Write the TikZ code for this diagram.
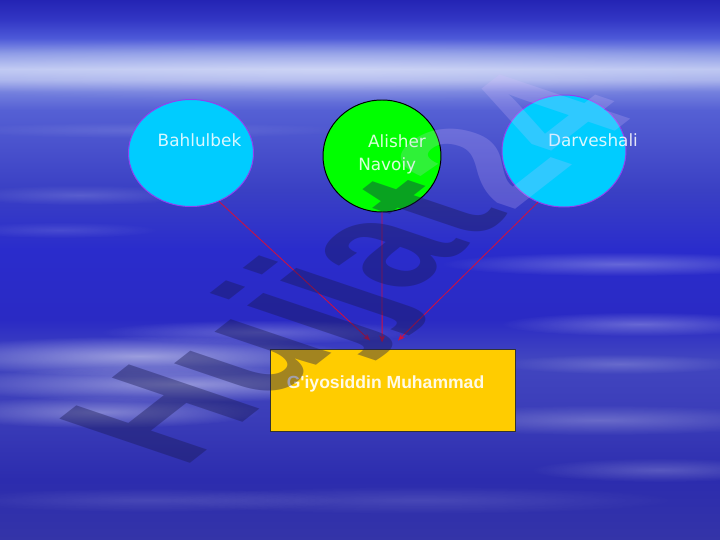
\documentclass[tikz,border=0pt]{standalone}
\usepackage{fontspec}
\setmainfont{DejaVu Sans}
\newfontfamily\boxfont{Liberation Sans}
\usetikzlibrary{shapes.geometric,arrows.meta,fadings}
\definecolor{sky0}{HTML}{3434A8}
\definecolor{sky1}{HTML}{2C2CAE}
\definecolor{sky2}{HTML}{3A3CB8}
\definecolor{sky3}{HTML}{4246C0}
\definecolor{sky4}{HTML}{2A2AC4}
\definecolor{sky5}{HTML}{2A2CCC}
\definecolor{sky6}{HTML}{3A40C4}
\definecolor{sky7}{HTML}{4850CC}
\definecolor{sky8}{HTML}{5560D4}
\definecolor{sky9}{HTML}{7480DE}
\definecolor{sky10}{HTML}{A8B2EC}
\definecolor{sky11}{HTML}{BCC6F2}
\definecolor{sky12}{HTML}{8A98E6}
\definecolor{sky13}{HTML}{4C58D8}
\definecolor{sky14}{HTML}{3236C4}
\definecolor{sky15}{HTML}{2424B4}
\definecolor{bubblecyan}{HTML}{00CCFF}
\definecolor{bubbleedge}{HTML}{9040F0}
\definecolor{navoiygreen}{HTML}{00FF00}
\definecolor{boxyellow}{HTML}{FFCC00}
\definecolor{linkred}{HTML}{D01040}
\definecolor{markdark}{HTML}{181850}
\definecolor{marklight}{HTML}{D8C0FF}
\pgfdeclareverticalshading{sky}{100bp}{color(0bp)=(sky0); color(25bp)=(sky0); color(30.6bp)=(sky1);
  color(36.1bp)=(sky2); color(41.7bp)=(sky3); color(45.4bp)=(sky4); color(51.9bp)=(sky5);
  color(57.4bp)=(sky6); color(61.1bp)=(sky7); color(64.8bp)=(sky8); color(66.5bp)=(sky9);
  color(67.6bp)=(sky10); color(68.6bp)=(sky11); color(70.1bp)=(sky12); color(71.5bp)=(sky13);
  color(73.2bp)=(sky14); color(75bp)=(sky15); color(100bp)=(sky15)}
\tikzfading[name=haze, inner color=transparent!20, outer color=transparent!100]
\tikzset{bubble/.style={ellipse, draw=bubbleedge, fill=bubblecyan, line width=0.7pt, inner sep=0pt},
  lbl/.style={text=white, text opacity=0.85, inner sep=0pt, font=\fontsize{12}{17}\selectfont},
  link/.style={draw=linkred, line width=0.6pt, -{Stealth[length=5pt,width=4pt]}},
  watermark/.style={transform shape, anchor=base west, inner sep=0pt, font=\boxfont\bfseries\fontsize{100}{100}\selectfont}}

\begin{document}
\begin{tikzpicture}
\useasboundingbox (0,0) rectangle (18,13.5);
\shade[shading=sky] (0,0) rectangle (18,13.5);
\foreach \cx/\cy/\rx/\ry/\op in {8/11.75/12/0.8/0.3, 3.75/10.25/5/0.2/0.15, 2/8.625/3/0.25/0.2, 1.5/7.75/2.5/0.2/0.15,
  3.5/4.6/5.5/0.5/0.6, 4.5/3.9/6/0.45/0.55, 2.5/3.2/4/0.4/0.45, 6.5/5.2/4/0.3/0.3,
  15.5/6.9/4.5/0.3/0.35, 16/5.4/3.5/0.3/0.35, 15.5/4.4/3/0.25/0.25, 15/3/5/0.375/0.3, 16.5/1.75/3.25/0.3/0.25,
  10.5/1/6.5/0.35/0.15, 3.75/1/5/0.3/0.15}
  { \fill[white, opacity=\op, path fading=haze] (\cx,\cy) ellipse ({\rx} and {\ry}); }

\node[bubble, minimum width=3.125cm, minimum height=2.675cm] (bahlul) at (4.775,9.675) {};
\node[bubble, draw=black, fill=navoiygreen, minimum width=2.95cm, minimum height=2.8cm] (alisher) at (9.55,9.6) {};
\node[bubble, minimum width=3.1cm, minimum height=2.8cm] (darvesh) at (14.1,9.725) {};
\node[draw=black!80, fill=boxyellow, line width=0.7pt, minimum width=6.125cm, minimum height=2.05cm, inner sep=0pt] (box) at (9.8125,3.75) {};

\node[lbl, anchor=base] (bahlulT) at (4.9875,9.825) {Bahlulbek};
\node[lbl, anchor=base west, align=left] (alisherT) at (8.95,9.225) {\hspace{7pt}Alisher\\Navoiy};
\node[lbl, anchor=base] (darveshT) at (14.825,9.825) {Darveshali};
\node[text=white, text opacity=0.9, inner sep=0pt, anchor=base, font=\boxfont\bfseries\fontsize{12.5}{15}\selectfont] (boxT) at (9.6375,3.775) {G'iyosiddin Muhammad};

\coordinate (inL) at ([shift={(-0.56,0.2)}]box.north);
\coordinate (inM) at ([shift={(-0.26,0.15)}]box.north);
\coordinate (inR) at ([shift={(0.14,0.2)}]box.north);
\draw[link] (bahlul.-60) -- (inL);
\draw[link] (alisher.south) -- (inM);
\draw[link] (darvesh.-117) -- (inR);

\begin{scope}[shift={(4.55,1.75)}, cm={0.841,0.657,-1.351,0.457,(0,0)}]
\node[watermark, text=markdark, text opacity=0.4] (markA) at (0,0) {Hujjat};
\node[watermark, text=marklight, text opacity=0.22] (markB) at (markA.base east) {24};
\end{scope}
\end{tikzpicture}
\end{document}
